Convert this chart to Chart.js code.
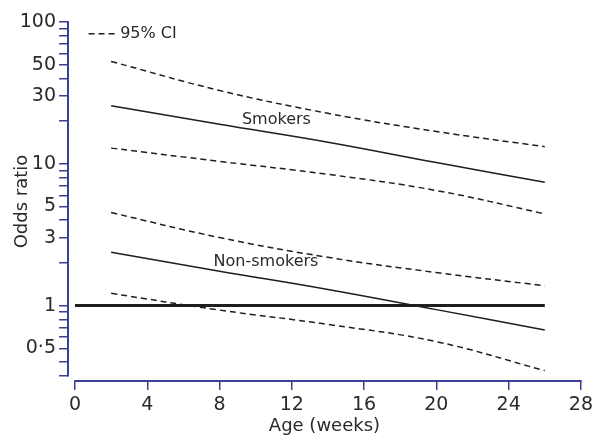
<!DOCTYPE html>
<html><head><meta charset="utf-8">
<script src="https://cdn.jsdelivr.net/npm/chart.js@4.4.1/dist/chart.umd.min.js"></script>
<style>html,body{margin:0;padding:0;background:#fff}#wrap{width:597px;height:443px}</style>
</head><body><div id="wrap"><canvas id="c" width="597" height="443"></canvas></div>
<script>
const weeks = [2, 8, 14, 20, 26];
const smokersOR = [25.7, 19.0, 14.2, 10.2, 7.4];
const smokersUpper = [52.7, 32.9, 22.7, 16.9, 13.2];
const smokersLower = [12.9, 10.4, 8.43, 6.48, 4.44];
const nonSmokersOR = [2.38, 1.75, 1.30, 0.937, 0.674];
const nonSmokersUpper = [4.53, 3.02, 2.19, 1.71, 1.38];
const nonSmokersLower = [1.22, 0.93, 0.737, 0.557, 0.348];
const refLineX = [0, 26];
const refLineY = [1, 1];
const xTicks = [0, 4, 8, 12, 16, 20, 24, 28];
const yTicks = [0.32, 0.4, 0.5, 0.6, 0.7, 0.8, 0.9, 1, 2, 3, 4, 5, 6, 7, 8, 9, 10, 20, 30, 40, 50, 60, 70, 80, 90, 100];
const yLabelValues = [100, 50, 30, 10, 5, 3, 1, 0.5];
const yLabelTexts = ['100', '50', '30', '10', '5', '3', '1', '0·5'];
const xRange = [-0.387, 28];
const yRange = [0.294, 100];
const yAxisEnds = [0.32, 100];
const xAxisEnds = [0, 28];
const annotations = [
  {text: 'Smokers', x: 9.24, y: 20.4},
  {text: 'Non-smokers', x: 7.67, y: 2.02}
];
const legendLineX = [0.75, 2.4];
const legendY = 82.7;
const legendTextX = 2.5;

const NAVY = '#3c4196';
const INK = '#1e1e1e';
const FONT = "'DejaVu Sans', sans-serif";

const pts = (xs, ys) => xs.map((x, i) => ({x: x, y: ys[i]}));
const curve = (data, dashed) => ({
  data: data, borderColor: INK, borderWidth: 1.5, pointRadius: 0,
  borderDash: dashed ? [6, 4] : [], tension: 0.4, fill: false
});

const decor = {
  id: 'decor',
  afterDatasetsDraw(chart) {
    const {ctx, chartArea} = chart;
    const xs = chart.scales.x, ys = chart.scales.y;
    ctx.save();
    ctx.strokeStyle = NAVY; ctx.lineWidth = 2;
    ctx.beginPath();
    ctx.moveTo(chartArea.left, ys.getPixelForValue(yAxisEnds[1]) - 1);
    ctx.lineTo(chartArea.left, ys.getPixelForValue(yAxisEnds[0]) + 0.75);
    ctx.stroke();
    ctx.beginPath();
    ctx.moveTo(xs.getPixelForValue(xAxisEnds[0]) - 0.75, chartArea.bottom);
    ctx.lineTo(xs.getPixelForValue(xAxisEnds[1]) + 0.75, chartArea.bottom);
    ctx.stroke();
    ctx.strokeStyle = INK; ctx.lineWidth = 1.5; ctx.setLineDash([6, 4]);
    ctx.beginPath();
    const ly = ys.getPixelForValue(legendY);
    ctx.moveTo(xs.getPixelForValue(legendLineX[0]), ly);
    ctx.lineTo(xs.getPixelForValue(legendLineX[1]), ly);
    ctx.stroke();
    ctx.setLineDash([]);
    ctx.fillStyle = '#2a2a2a';
    ctx.font = '16px ' + FONT;
    ctx.textBaseline = 'middle'; ctx.textAlign = 'left';
    ctx.fillText('95% CI', xs.getPixelForValue(legendTextX), ly);
    annotations.forEach(a => ctx.fillText(a.text, xs.getPixelForValue(a.x), ys.getPixelForValue(a.y)));
    ctx.restore();
  }
};

new Chart(document.getElementById('c'), {
  type: 'line',
  data: {
    datasets: [
      {data: pts(refLineX, refLineY), borderColor: INK, borderWidth: 3, pointRadius: 0, fill: false},
      curve(pts(weeks, smokersOR), false),
      curve(pts(weeks, smokersUpper), true),
      curve(pts(weeks, smokersLower), true),
      curve(pts(weeks, nonSmokersOR), false),
      curve(pts(weeks, nonSmokersUpper), true),
      curve(pts(weeks, nonSmokersLower), true)
    ]
  },
  options: {
    responsive: false, animation: false, devicePixelRatio: 1,
    layout: {padding: {top: 22, right: 15, left: 0, bottom: 0}},
    plugins: {legend: {display: false}, tooltip: {enabled: false}},
    scales: {
      x: {
        type: 'linear', min: xRange[0], max: xRange[1],
        afterBuildTicks: s => { s.ticks = xTicks.map(v => ({value: v})); },
        afterFit: s => { s.height = 62; },
        grid: {drawOnChartArea: false, drawTicks: true, tickLength: 9, color: NAVY, lineWidth: 1.5},
        border: {display: false},
        ticks: {font: {family: FONT, size: 19}, color: '#2a2a2a', padding: 4, maxRotation: 0, autoSkip: false,
          callback: v => String(v)},
        title: {display: true, text: 'Age (weeks)', font: {family: FONT, size: 18}, color: '#2a2a2a', padding: {top: 0, bottom: 6}}
      },
      y: {
        type: 'logarithmic', min: yRange[0], max: yRange[1],
        afterBuildTicks: s => { s.ticks = yTicks.map(v => ({value: v})); },
        afterFit: s => { s.width = 68; },
        grid: {drawOnChartArea: false, drawTicks: true, tickLength: 9, color: NAVY, lineWidth: 1.5},
        border: {display: false},
        ticks: {font: {family: FONT, size: 19}, color: '#2a2a2a', padding: 3, autoSkip: false,
          callback: v => { const i = yLabelValues.findIndex(t => Math.abs(t - v) < 1e-9); return i >= 0 ? yLabelTexts[i] : ''; }},
        title: {display: true, text: 'Odds ratio', font: {family: FONT, size: 18}, color: '#2a2a2a', padding: {top: 12, bottom: 0}}
      }
    }
  },
  plugins: [decor]
});
</script>
</body></html>
